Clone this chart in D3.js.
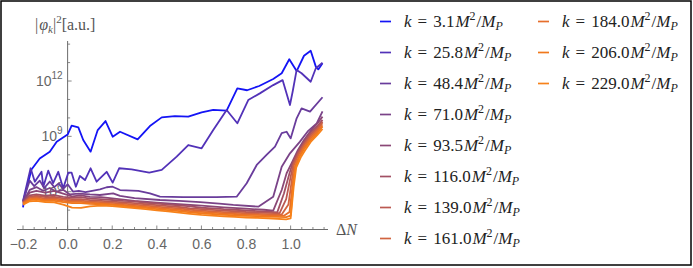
<!DOCTYPE html>
<html><head><meta charset="utf-8">
<script src="https://cdn.jsdelivr.net/npm/d3@7"></script>
<style>body{margin:0;background:#fff}svg{display:block}</style>
</head><body>
<svg id="chart" width="693" height="268"></svg>
<script>
// ---- data (ΔN, log10 |phi_k|^2) ----
const kLabels = ["3.1","25.8","48.4","71.0","93.5","116.0","139.0","161.0","184.0","206.0","229.0"];
const colors = ["#1414f5","#5232b8","#693c9c","#7a4388","#8b4876","#a25064","#bb5952","#d16440","#e66e2b","#f0781c","#f7821a"];

const s3_1 = [[-0.2,5.15],[-0.192,5.8],[-0.162,7.2],[-0.125,7.8],[-0.08,8.17],[-0.049,8.71],[0.0,9.1],[0.018,9.58],[0.048,9.49],[0.07,8.8],[0.103,8.17],[0.135,9.34],[0.17,9.83],[0.202,8.98],[0.235,9.25],[0.314,8.84],[0.369,9.56],[0.422,10.03],[0.481,10.1],[0.541,10.07],[0.601,10.3],[0.653,10.44],[0.713,10.39],[0.761,11.6],[0.805,11.5],[0.859,11.73],[0.922,12.11],[0.96,12.42],[0.994,13.18],[1.027,12.54],[1.06,13.37],[1.09,13.64],[1.113,12.78],[1.124,12.63],[1.143,12.96]];
const s25_8 = [[-0.2,5.5],[-0.166,7.27],[-0.147,6.54],[-0.117,7.08],[-0.109,6.27],[-0.087,7.14],[-0.065,6.46],[-0.042,7.08],[-0.02,6.18],[0.003,7.03],[0.018,7.03],[0.037,6.27],[0.055,6.85],[0.078,6.63],[0.103,7.27],[0.13,6.54],[0.175,7.08],[0.202,6.49],[0.231,7.27],[0.287,7.21],[0.366,7.03],[0.422,7.18],[0.489,7.9],[0.541,8.53],[0.601,8.35],[0.653,9.34],[0.713,10.43],[0.761,9.71],[0.81,10.97],[0.862,11.33],[0.922,11.78],[0.964,12.05],[0.997,10.7],[1.009,11.42],[1.027,12.6],[1.049,12.42],[1.09,11.96],[1.113,12.69],[1.143,12.99]];
const s48_4 = [[-0.2,5.5],[-0.17,6.6],[-0.15,6.3],[-0.125,6.6],[-0.105,6.2],[-0.08,6.55],[-0.06,6.25],[-0.04,6.45],[-0.02,6.15],[0.0,6.4],[0.025,6.0],[0.05,6.05],[0.08,5.98],[0.11,6.05],[0.145,6.13],[0.175,6.24],[0.202,6.27],[0.235,6.09],[0.317,6.04],[0.369,5.91],[0.414,5.73],[0.518,5.7],[0.668,5.7],[0.758,5.73],[0.803,6.46],[0.848,7.45],[0.892,7.99],[0.93,8.44],[0.96,9.17],[0.982,9.25],[1.0,8.89],[1.027,9.98],[1.049,10.52],[1.087,10.34],[1.143,11.12]];
const s71_0 = [[-0.2,5.45],[-0.17,6.1],[-0.14,6.25],[-0.11,6.05],[-0.08,6.2],[-0.05,6.0],[-0.02,6.1],[0.01,5.85],[0.05,5.9],[0.1,5.85],[0.145,5.82],[0.204,5.91],[0.235,5.77],[0.3,5.65],[0.414,5.55],[0.5,5.5],[0.594,5.43],[0.68,5.35],[0.743,5.28],[0.855,5.19],[0.922,5.73],[0.96,7.35],[0.997,8.08],[1.041,8.7],[1.079,9.3],[1.117,9.7],[1.143,10.35]];
const s93_5 = [[-0.2,5.45],[-0.17,5.95],[-0.14,6.05],[-0.1,5.95],[-0.06,6.05],[-0.02,5.9],[0.02,5.75],[0.06,5.8],[0.1,5.72],[0.15,5.7],[0.2,5.64],[0.3,5.5],[0.4,5.4],[0.5,5.32],[0.6,5.24],[0.7,5.15],[0.8,5.08],[0.88,5.02],[0.922,4.97],[0.96,6.09],[0.982,7.0],[1.004,7.54],[1.033,8.26],[1.06,8.8],[1.09,9.3],[1.12,9.7],[1.143,10.07]];
const flatGrid = [-0.2,-0.17,-0.14,-0.1,-0.06,-0.02,0.02,0.06,0.1,0.15,0.2,0.25,0.3,0.35,0.4,0.45,0.5,0.55,0.6,0.65,0.7,0.75,0.8,0.85,0.9];
const flat116 = [5.42,5.8,5.86,5.78,5.82,5.72,5.68,5.7,5.62,5.6,5.55,5.5,5.47,5.4,5.36,5.3,5.26,5.2,5.13,5.1,5.05,5.02,4.98,4.95,4.92];
const rise116 = [[0.94,4.88],[0.97,5.9],[0.995,7.0],[1.01,7.6],[1.035,8.2],[1.06,8.7],[1.09,9.2],[1.12,9.55],[1.143,9.89]];
const flat139 = [5.4,5.72,5.78,5.7,5.72,5.64,5.6,5.6,5.54,5.5,5.46,5.42,5.38,5.32,5.27,5.22,5.17,5.1,5.05,5.01,4.97,4.94,4.9,4.88,4.85];
const rise139 = [[0.95,4.83],[0.98,5.6],[1.0,6.8],[1.012,7.5],[1.035,8.1],[1.06,8.6],[1.09,9.1],[1.12,9.45],[1.143,9.8]];
const flat161 = [5.38,5.66,5.7,5.62,5.64,5.57,5.52,5.52,5.46,5.43,5.39,5.35,5.3,5.25,5.19,5.14,5.09,5.02,4.97,4.93,4.89,4.86,4.82,4.8,4.78];
const rise161 = [[0.96,4.76],[0.99,5.3],[1.005,6.6],[1.015,7.45],[1.035,8.0],[1.06,8.5],[1.09,9.0],[1.12,9.38],[1.143,9.71]];
const flat184 = [5.36,5.6,5.64,5.56,5.57,5.5,5.45,5.45,5.4,5.37,5.33,5.29,5.23,5.18,5.12,5.07,5.02,4.95,4.9,4.86,4.82,4.79,4.76,4.74,4.72];
const rise184 = [[0.97,4.7],[0.995,4.9],[1.01,6.5],[1.02,7.4],[1.04,7.95],[1.06,8.4],[1.09,8.9],[1.12,9.28],[1.143,9.6]];
const flat206 = [5.34,5.55,5.58,5.5,5.5,5.43,5.38,5.38,5.34,5.32,5.28,5.23,5.17,5.12,5.06,5.0,4.95,4.88,4.83,4.79,4.75,4.72,4.69,4.67,4.65];
const rise206 = [[0.98,4.62],[1.0,4.7],[1.012,6.4],[1.022,7.35],[1.04,7.9],[1.06,8.3],[1.09,8.8],[1.12,9.18],[1.143,9.52]];
const flat229 = [5.3,5.48,5.5,5.44,5.42,5.3,5.14,5.12,5.2,5.25,5.22,5.17,5.11,5.05,4.99,4.93,4.87,4.8,4.74,4.7,4.66,4.63,4.6,4.58,4.56];
const rise229 = [[0.98,4.5],[1.0,4.55],[1.014,6.3],[1.025,7.3],[1.045,7.85],[1.065,8.25],[1.09,8.7],[1.12,9.08],[1.143,9.4]];

const xMajorTicks = [-0.2,0.0,0.2,0.4,0.6,0.8,1.0];
const yMajorExps = [6,9,12];

// ---- build series ----
const withGrid = (flat, rise) => flatGrid.map((x,i)=>[x,flat[i]]).concat(rise);
const series = [s3_1, s25_8, s48_4, s71_0, s93_5,
  withGrid(flat116,rise116), withGrid(flat139,rise139), withGrid(flat161,rise161),
  withGrid(flat184,rise184), withGrid(flat206,rise206), withGrid(flat229,rise229)];

const SERIF = "Liberation Serif", SANS = "Liberation Sans";
const svg = d3.select("#chart");
const x = d3.scaleLinear().domain([-0.227, 1.1676]).range([17, 328]);
const y = d3.scaleLog().domain([Math.pow(10,3.95), Math.pow(10,14.17)]).range([229.5, 41]);
const axisColor = "#6b6b6b", labelColor = "#666";

// frame
svg.append("rect").attr("x",1).attr("y",1).attr("width",690).attr("height",264)
  .attr("fill","none").attr("stroke","#000").attr("stroke-width",1.5);

// axes lines
svg.append("line").attr("x1",x.range()[0]).attr("x2",x.range()[1]).attr("y1",229.5).attr("y2",229.5)
  .attr("stroke",axisColor).attr("stroke-width",1);
svg.append("line").attr("x1",x(0)).attr("x2",x(0)).attr("y1",41).attr("y2",231)
  .attr("stroke",axisColor).attr("stroke-width",1);

// x ticks
const xMinor = d3.range(-0.2, 1.16, 0.05);
svg.append("g").selectAll("line").data(xMinor).join("line")
  .attr("x1",d=>x(d)).attr("x2",d=>x(d)).attr("y1",229.5)
  .attr("y2",d=> xMajorTicks.some(t=>Math.abs(t-d)<1e-6) ? 225.5 : 227)
  .attr("stroke",axisColor).attr("stroke-width",0.8);
const xAxis = d3.axisBottom(x).tickValues(xMajorTicks).tickSize(0).tickPadding(10)
  .tickFormat(d3.format(".1f"));
const gx = svg.append("g").attr("transform","translate(0,229.5)").call(xAxis);
gx.select(".domain").remove();
gx.attr("font-family",SANS).attr("font-size",14);
gx.selectAll("text").attr("fill",labelColor);

// y ticks
const yExps = d3.range(5, 15);
svg.append("g").selectAll("line").data(yExps).join("line")
  .attr("x1",x(0)).attr("x2",d=> yMajorExps.includes(d) ? x(0)+4 : x(0)+2.5)
  .attr("y1",d=>y(Math.pow(10,d))).attr("y2",d=>y(Math.pow(10,d)))
  .attr("stroke",axisColor).attr("stroke-width",0.8);
const yl = svg.append("g").selectAll("text").data(yMajorExps).join("text")
  .attr("font-family",SANS).attr("x",x(0)-5).attr("y",d=>y(Math.pow(10,d))+5)
  .attr("text-anchor","end").attr("font-size",14).attr("fill",labelColor);
yl.append("tspan").text("10");
yl.append("tspan").attr("font-size",10).attr("dy",-7).text(d=>d);

// axis titles
const yt = svg.append("text").attr("font-family",SERIF).attr("x",35).attr("y",30)
  .attr("font-size",16).attr("fill","#555");
yt.append("tspan").text("|");
yt.append("tspan").attr("font-style","italic").attr("dx",1).text("φ");
yt.append("tspan").attr("font-style","italic").attr("font-size",11).attr("dy",3).text("k");
yt.append("tspan").attr("dy",-3).text("|");
yt.append("tspan").attr("font-size",11).attr("dy",-7).text("2");
yt.append("tspan").attr("dy",7).text("[a.u.]");

const xt = svg.append("text").attr("font-family",SERIF).attr("x",336).attr("y",235)
  .attr("font-size",16).attr("fill","#555");
xt.append("tspan").text("Δ");
xt.append("tspan").attr("font-style","italic").text("N");

// lines
const line = d3.line().x(d=>x(d[0])).y(d=>y(Math.pow(10,d[1])));
svg.append("g").selectAll("path").data(series).join("path")
  .attr("d",line).attr("fill","none").attr("stroke",(d,i)=>colors[i])
  .attr("stroke-width",1.8).attr("stroke-linejoin","round");

// legend
const leg = svg.append("g");
kLabels.forEach((k,i)=>{
  const col = i < 8 ? 0 : 1, row = i < 8 ? i : i-8;
  const sx = col===0 ? 380 : 538, ty = 21.5 + row*31;
  leg.append("line").attr("x1",sx).attr("x2",sx+11).attr("y1",ty).attr("y2",ty)
    .attr("stroke",colors[i]).attr("stroke-width",1.7);
  const t = leg.append("text").attr("font-family",SERIF).attr("x",sx+24).attr("y",ty+5)
    .attr("font-size",17).attr("fill","#222");
  t.append("tspan").attr("font-style","italic").text("k");
  t.append("tspan").attr("dx",6).text("=");
  t.append("tspan").attr("dx",6).text(k);
  t.append("tspan").attr("font-style","italic").attr("dx",1).text("M");
  t.append("tspan").attr("font-size",12).attr("dy",-7).text("2");
  t.append("tspan").attr("dy",7).attr("dx",1).text("/");
  t.append("tspan").attr("font-style","italic").text("M");
  t.append("tspan").attr("font-style","italic").attr("font-size",12).attr("dy",3).text("P");
});
</script>
</body></html>
